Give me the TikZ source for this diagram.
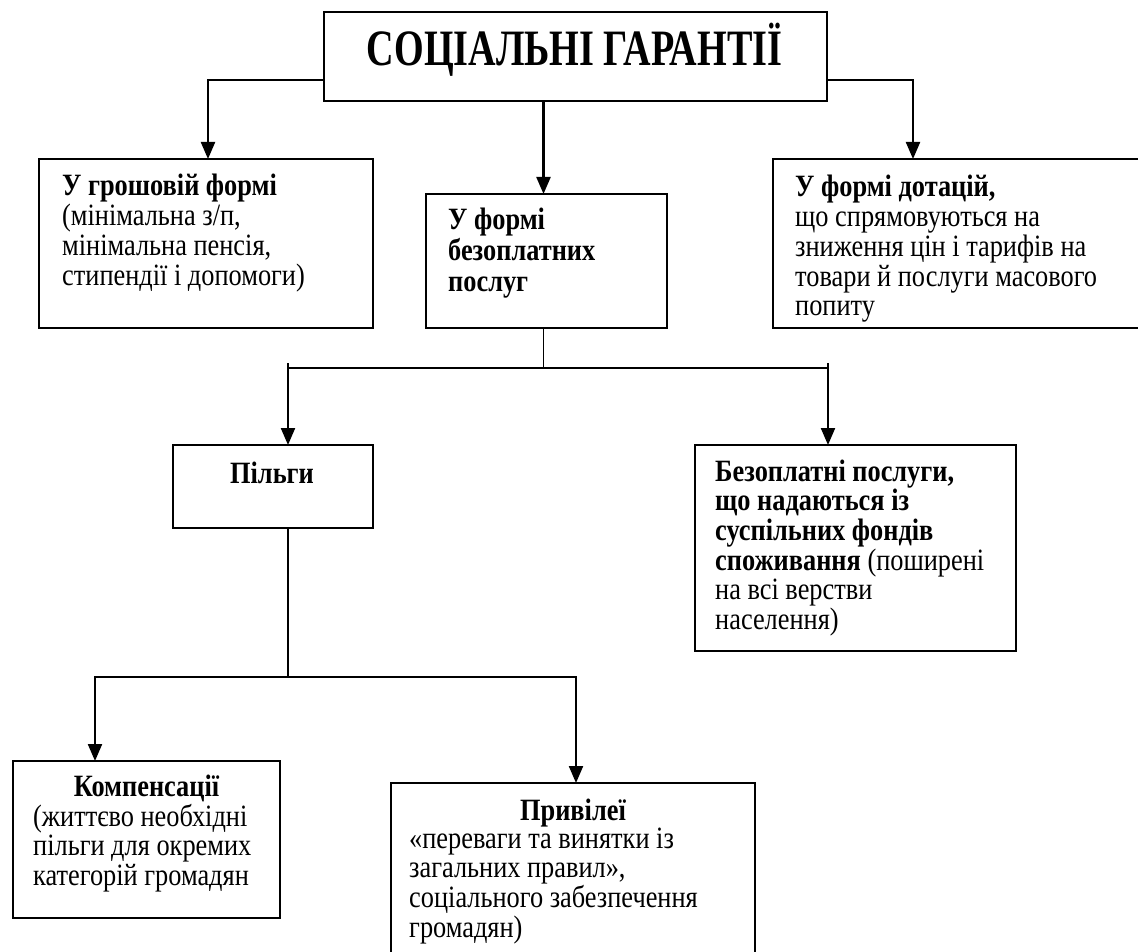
\documentclass[tikz,border=0pt]{standalone}
\usepackage{fontspec}
\usepackage{graphicx}
\setmainfont{Liberation Serif}[FakeStretch=0.85]
\lineskiplimit=-100pt
\usetikzlibrary{arrows.meta}
\begin{document}
\begin{tikzpicture}[x=1pt,y=-1pt,
  box/.style={draw, line width=2pt, inner sep=0pt, outer sep=0pt, anchor=north west},
  arr/.style={line width=2.2pt, -{Triangle[length=17pt,width=14pt]}},
  thinline/.style={line width=1.5pt},
  bar/.style={line width=2.2pt},
  txt/.style={inner sep=0pt, anchor=base west, font=\fontsize{31}{29.7}\selectfont},
  ctxt/.style={inner sep=0pt, anchor=base, font=\fontsize{31}{29.7}\selectfont\bfseries}]
\useasboundingbox (0,0) rectangle (1138,952);
\clip (0,0) rectangle (1138,952);

% boxes
\node[box, minimum width=503pt, minimum height=89pt] (title) at (324,12) {};
\node[inner sep=0pt, anchor=base] (titletext) at (574.5,66) {\scalebox{0.88}[1]{\fontsize{51}{60}\selectfont\bfseries СОЦІАЛЬНІ ГАРАНТІЇ}};

\node[box, minimum width=334pt, minimum height=169pt] (money) at (39,159) {};
\node[txt] (moneytext) at (62,196) {\parbox[t]{310pt}{\raggedright\textbf{У грошовій формі}\\(мінімальна з/п,\\мінімальна пенсія,\\стипендії і допомоги)}};

\node[box, minimum width=241pt, minimum height=134pt] (free) at (426,194) {};
\node[txt] (freetext) at (448,230) {\parbox[t]{215pt}{\raggedright\bfseries\baselineskip=31pt У формі\\безоплатних\\послуг}};

\node[box, minimum width=400pt, minimum height=169pt] (subsidy) at (773,159) {};
\node[txt] (subsidytext) at (795,197) {\parbox[t]{340pt}{\raggedright\textbf{У формі дотацій,}\\що спрямовуються на\\зниження цін і тарифів на\\товари й послуги масового\\попиту}};

\node[box, minimum width=200pt, minimum height=83pt] (pilgy) at (173,445) {};
\node[ctxt] (pilgytext) at (272,483) {Пільги};

\node[box, minimum width=321pt, minimum height=206pt] (freesvc) at (695,445) {};
\node[txt] (freesvctext) at (715,481) {\parbox[t]{300pt}{\raggedright\textbf{Безоплатні послуги,}\\\textbf{що надаються із}\\\textbf{суспільних фондів}\\\textbf{споживання} (поширені\\на всі верстви\\населення)}};

\node[box, minimum width=267pt, minimum height=157pt] (comp) at (13,761) {};
\node[ctxt] (compname) at (146.5,796) {Компенсації};
\node[txt] (comptext) at (33,826) {\parbox[t]{250pt}{\raggedright(життєво необхідні\\пільги для окремих\\категорій громадян}};

\node[box, minimum width=364pt, minimum height=250pt] (priv) at (391,783) {};
\node[ctxt] (privname) at (573,820) {Привілеї};
\node[txt] (privtext) at (409,848) {\parbox[t]{340pt}{\raggedright«переваги та винятки із\\загальних правил»,\\соціального забезпечення\\громадян)}};

% connectors
\draw[arr] ([yshift=-23.5pt]title.west) -| ([xshift=2pt]money.north);
\draw[arr] ([yshift=-23.5pt]title.east) -| ([xshift=140pt]subsidy.north west);
\coordinate (fin) at ([xshift=-3pt]free.north);
\draw[arr] (title.south -| fin) -- (fin);

\coordinate (bl) at (288,368);
\coordinate (br) at (828,368);
\draw[thinline] (fin |- free.south) -- (fin |- bl);
\draw[bar] (bl) -- (br);
\draw[arr] ([yshift=5pt]bl) -- (bl |- pilgy.north);
\draw[arr] ([yshift=5pt]br) -- (br |- freesvc.north);

\coordinate (cl) at (95,677);
\coordinate (cr) at (576,677);
\draw[thinline] (bl |- pilgy.south) -- (bl |- cl);
\draw[arr] (bl |- cl) -- (cl) -- (cl |- comp.north);
\draw[arr] (bl |- cl) -- (cr) -- (cr |- priv.north);
\end{tikzpicture}
\end{document}
